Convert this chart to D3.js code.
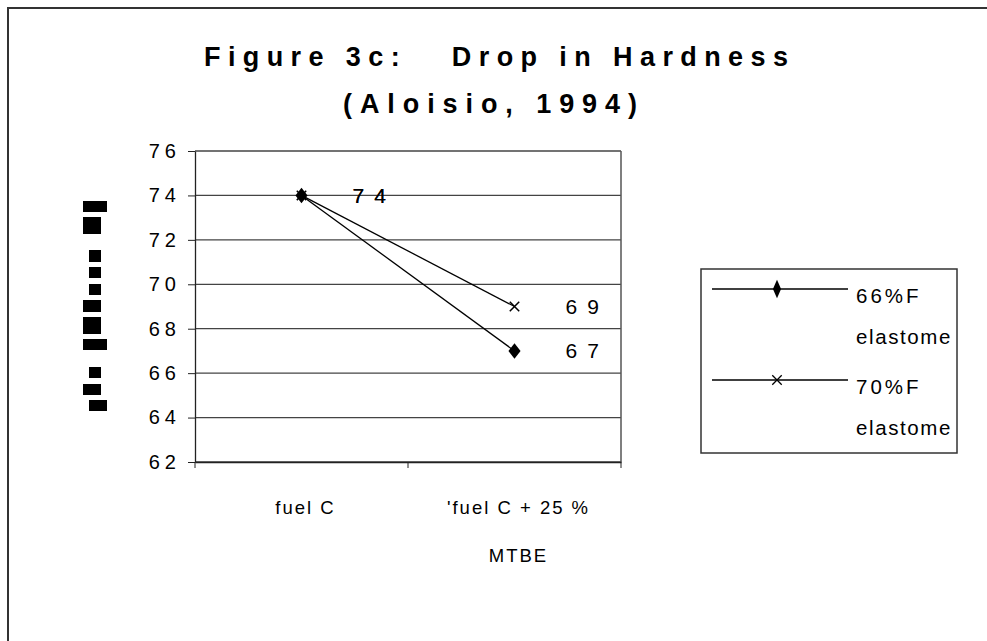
<!DOCTYPE html>
<html>
<head>
<meta charset="utf-8">
<script src="https://cdn.jsdelivr.net/npm/d3@7"></script>
<style>
  body { margin: 0; background: #fff; }
  svg { display: block; font-family: "Liberation Sans", Arial, sans-serif; }
</style>
</head>
<body>
<div id="chart"></div>
<script>
// Figure 3c: Drop in Hardness (Aloisio, 1994)

const titleLines = ["Figure 3c:   Drop in Hardness", "(Aloisio, 1994)"];
const categories = ["fuel C", "'fuel C + 25 %|MTBE"];
const seriesNames = [["66%F", "elastome"], ["70%F", "elastome"]];
const values66 = [74, 67];
const values70 = [74, 69];
const yTicks = [62, 64, 66, 68, 70, 72, 74, 76];

const width = 987;
const height = 641;

const svg = d3.select("#chart")
  .append("svg")
  .attr("width", width)
  .attr("height", height);

// outer frame (right/bottom edges run off the picture)
svg.append("rect")
  .attr("x", 8).attr("y", 8)
  .attr("width", width + 20).attr("height", height + 20)
  .attr("fill", "none")
  .attr("stroke", "#333")
  .attr("stroke-width", 2);

// title
const titleFont = "'Liberation Sans Narrow', 'Liberation Sans', Arial, sans-serif";
svg.append("text")
  .attr("x", 204).attr("y", 66)
  .attr("font-size", 27).attr("font-weight", "bold")
  .attr("font-family", titleFont)
  .attr("textLength", 584).attr("lengthAdjust", "spacing")
  .style("white-space", "pre")
  .text(titleLines[0]);

svg.append("text")
  .attr("x", 343).attr("y", 113)
  .attr("font-size", 27).attr("font-weight", "bold")
  .attr("font-family", titleFont)
  .attr("textLength", 294).attr("lengthAdjust", "spacing")
  .text(titleLines[1]);

// plot area
const plot = { left: 195, right: 621, top: 151, bottom: 462 };

const x = d3.scaleBand()
  .domain(categories)
  .range([plot.left, plot.right]);

const y = d3.scaleLinear()
  .domain([62, 76])
  .range([plot.bottom, plot.top]);

const cx = d => x(d) + x.bandwidth() / 2;

// gridlines
svg.append("g")
  .selectAll("line")
  .data(yTicks)
  .join("line")
  .attr("x1", plot.left).attr("x2", plot.right)
  .attr("y1", d => y(d)).attr("y2", d => y(d))
  .attr("stroke", "#444")
  .attr("stroke-width", 1.3);

// right border of plot
svg.append("line")
  .attr("x1", plot.right).attr("x2", plot.right)
  .attr("y1", plot.top).attr("y2", plot.bottom)
  .attr("stroke", "#555").attr("stroke-width", 1.5);

// y axis
const yAxis = svg.append("g")
  .attr("transform", `translate(${plot.left},0)`)
  .call(d3.axisLeft(y).tickValues(yTicks).tickSize(7).tickPadding(12).tickSizeOuter(0));
yAxis.select(".domain").attr("stroke", "#222").attr("stroke-width", 1.3);
yAxis.selectAll("line").attr("stroke", "#222");
yAxis.selectAll("text")
  .attr("font-size", 20)
  .attr("font-family", "Liberation Sans, Arial, sans-serif")
  .attr("letter-spacing", 5)
  .attr("dx", 5)
  .attr("fill", "#000");

// x axis
const xAxis = svg.append("g")
  .attr("transform", `translate(0,${plot.bottom})`)
  .call(d3.axisBottom(x).tickSize(0).tickFormat(""));
xAxis.select(".domain").attr("stroke", "#222").attr("stroke-width", 1.3);

// category tick marks between bands
svg.append("g")
  .selectAll("line")
  .data([plot.left, x(categories[1]), plot.right])
  .join("line")
  .attr("x1", d => d).attr("x2", d => d)
  .attr("y1", plot.bottom).attr("y2", plot.bottom + 6)
  .attr("stroke", "#222");

// category labels
categories.forEach(c => {
  const parts = c.split("|");
  parts.forEach((p, i) => {
    svg.append("text")
      .attr("x", cx(c) + 4)
      .attr("y", 514 + i * 48)
      .attr("text-anchor", "middle")
      .attr("font-size", 18.5)
      .attr("letter-spacing", 2)
      .style("white-space", "pre")
      .text(p);
  });
});

// y axis title (rendered as missing-glyph boxes in the original)
const titleBoxes = [
  [83, 201, 24, 11], [83, 217, 18, 17], [89, 250, 12, 12], [89, 267, 12, 11],
  [89, 284, 12, 11], [83, 300, 18, 12], [83, 317, 18, 17], [83, 339, 24, 11],
  [89, 367, 12, 11], [83, 384, 18, 11], [89, 400, 18, 11]
];
svg.append("g")
  .selectAll("rect")
  .data(titleBoxes)
  .join("rect")
  .attr("x", d => d[0]).attr("y", d => d[1])
  .attr("width", d => d[2]).attr("height", d => d[3])
  .attr("fill", "#000");

// series
const diamond = d3.symbol().type(d3.symbolDiamond).size(70);
const cross = d3.symbol().type(d3.symbolX).size(60);

const line = d3.line()
  .x((d, i) => cx(categories[i]))
  .y(d => y(d));

[values66, values70].forEach(vals => {
  svg.append("path")
    .attr("d", line(vals))
    .attr("fill", "none")
    .attr("stroke", "#000")
    .attr("stroke-width", 1.3);
});

svg.append("g")
  .selectAll("path")
  .data(values66)
  .join("path")
  .attr("transform", (d, i) => `translate(${cx(categories[i])},${y(d)}) scale(1.35,1.0)`)
  .attr("d", diamond)
  .attr("fill", "#000");

svg.append("g")
  .selectAll("path")
  .data(values70)
  .join("path")
  .attr("transform", (d, i) => `translate(${cx(categories[i])},${y(d)})`)
  .attr("d", cross)
  .attr("fill", "none")
  .attr("stroke", "#000")
  .attr("stroke-width", 1.5);

// data labels
[values66, values70].forEach(vals => {
  svg.append("g")
    .selectAll("text")
    .data(vals)
    .join("text")
    .attr("x", (d, i) => cx(categories[i]) + 51)
    .attr("y", d => y(d))
    .attr("dy", "0.36em")
    .attr("font-size", 21)
    .attr("letter-spacing", 10)
    .text(d => d);
});

// legend
const legend = svg.append("g");
legend.append("rect")
  .attr("x", 701).attr("y", 269)
  .attr("width", 256).attr("height", 184)
  .attr("fill", "#fff")
  .attr("stroke", "#333")
  .attr("stroke-width", 1.5);

const legendRows = [289, 380];
seriesNames.forEach((name, i) => {
  const ly = legendRows[i];
  legend.append("line")
    .attr("x1", 712).attr("x2", 848)
    .attr("y1", ly).attr("y2", ly)
    .attr("stroke", "#000").attr("stroke-width", 1.3);
  if (i === 0) {
    legend.append("path")
      .attr("transform", `translate(777,${ly}) scale(0.9,1.2)`)
      .attr("d", diamond).attr("fill", "#000");
  } else {
    legend.append("path")
      .attr("transform", `translate(777,${ly})`)
      .attr("d", cross).attr("fill", "none")
      .attr("stroke", "#000").attr("stroke-width", 1.3);
  }
  name.forEach((t, j) => {
    legend.append("text")
      .attr("x", 856)
      .attr("y", ly + 14 + j * 41)
      .attr("font-size", 20.5)
      .attr("letter-spacing", j === 0 ? 3 : 1.6)
      .text(t);
  });
});
</script>
</body>
</html>
